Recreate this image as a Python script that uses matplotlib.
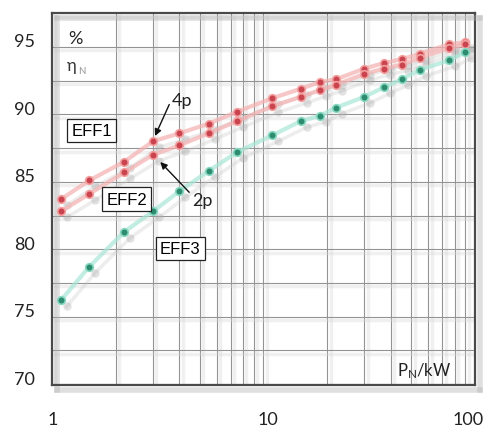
import matplotlib
matplotlib.use('Agg')
import matplotlib.pyplot as plt
import matplotlib.transforms as mtransforms
import matplotlib.patheffects as pe
from matplotlib.ticker import FixedLocator, NullFormatter

plt.rcParams['font.family'] = ['Lato', 'DejaVu Sans']
plt.rcParams['mathtext.default'] = 'regular'

# rated power in kW
power = [1.1, 1.5, 2.2, 3, 4, 5.5, 7.5, 11, 15, 18.5, 22, 30, 37, 45, 55, 75, 90]
# efficiency limits in %
eff1_4p = [83.7, 85.1, 86.5, 88.0, 88.6, 89.3, 90.2, 91.2, 91.9, 92.4, 92.6,
           93.4, 93.8, 94.1, 94.5, 95.2, 95.35]
eff1_2p = [82.8, 84.1, 85.7, 87.0, 87.7, 88.6, 89.5, 90.6, 91.3, 91.8, 92.2,
           93.0, 93.4, 93.7, 94.2, 94.9, 95.2]
eff2_lim = [76.2, 78.7, 81.3, 82.8, 84.3, 85.8, 87.2, 88.45, 89.5, 89.9, 90.5,
            91.3, 92.0, 92.6, 93.3, 94.0, 94.6]

x_ticks = [1, 10, 100]
x_labels = ['1', '10', '100']
x_minor = [2, 3, 4, 5, 6, 7, 8, 9, 20, 30, 40, 50, 60, 70, 80, 90]
y_ticks = [70, 75, 80, 85, 90, 95]
y_minor = [72.5, 77.5, 82.5, 87.5, 92.5, 97.5]

fig = plt.figure(figsize=(4.85, 4.27), dpi=100)
ax = fig.add_axes([52/485, 1 - 386/427, 423/485, 372/427])
ax.set_xscale('log')
ax.set_xlim(1, 100)
ax.set_ylim(69.93, 97.52)

ax.xaxis.set_major_locator(FixedLocator(x_ticks))
ax.xaxis.set_minor_locator(FixedLocator(x_minor))
ax.xaxis.set_minor_formatter(NullFormatter())
ax.set_xticklabels(x_labels)
ax.yaxis.set_major_locator(FixedLocator(y_ticks))
ax.yaxis.set_minor_locator(FixedLocator(y_minor))
ax.yaxis.set_minor_formatter(NullFormatter())
ax.tick_params(which='both', length=0)
ax.tick_params(axis='x', pad=18.5, labelsize=13, labelcolor='#222')
ax.tick_params(axis='y', pad=12, labelsize=13, labelcolor='#222')

# y labels sit a little above their grid lines
up = mtransforms.ScaledTranslation(0, 7/100, fig.dpi_scale_trans)
for t in ax.yaxis.get_major_ticks():
    t.label1.set_transform(t.label1.get_transform() + up)
# small horizontal nudges of the x labels, as in the original drawing
for t, dx in zip(ax.xaxis.get_major_ticks(), [1, 4, -7]):
    t.label1.set_transform(t.label1.get_transform() +
                           mtransforms.ScaledTranslation(dx/100, 0, fig.dpi_scale_trans))

ax.grid(which='both', color='#939393', lw=0.8)
grid_fx = [pe.SimpleLineShadow(offset=(2.5, -2.5), shadow_color='#d6d6d6',
                               alpha=0.35, linewidth=2.5), pe.Normal()]
for t in ax.xaxis.get_major_ticks() + ax.xaxis.get_minor_ticks() + \
        ax.yaxis.get_major_ticks() + ax.yaxis.get_minor_ticks():
    t.gridline.set_path_effects(grid_fx)

for sp in ax.spines.values():
    sp.set_color('#4a4a4a')
    sp.set_linewidth(1.6)
    sp.set_path_effects([pe.SimpleLineShadow(offset=(3.5, -3.5), shadow_color='#b0b0b0',
                                             alpha=0.4, linewidth=4), pe.Normal()])

shift = ax.transData + mtransforms.ScaledTranslation(6/100, -6/100, fig.dpi_scale_trans)

series = [
    (eff1_4p, '#f5b0b0', '#c9444e', '#f3a0a0'),
    (eff1_2p, '#f5b0b0', '#c9444e', '#f3a0a0'),
    (eff2_lim, '#a8e6d6', '#2e8c6e', '#88d8c2'),
]
for vals, lc, mfc, mec in series:
    ax.plot(power, vals, color='#c4c4c4', lw=2.5, alpha=0.3, marker='o', ms=6,
            mfc='#a0a0a0', mec='none', transform=shift, zorder=2)
for vals, lc, mfc, mec in series:
    ax.plot(power, vals, color=lc, lw=3, alpha=0.7, zorder=3)
    ax.plot(power, vals, ls='none', marker='o', ms=5.5, mfc=mfc, mec=mec,
            mew=1.2, zorder=4)

ax.text(1.285, 95.63, '%', fontsize=13, ha='center', va='center', color='#222')
ax.text(1.237, 93.66, 'η', fontsize=12, ha='center', va='center', color='#333')
ax.text(1.38, 93.29, 'N', fontsize=7, ha='center', va='center', color='#999')

box = dict(boxstyle='square,pad=0.25', fc='white', ec='#222', lw=0.9)
ax.text(1.54, 88.8, 'EFF1', fontsize=12, ha='center', va='center',
        family='Liberation Sans', bbox=box, zorder=6)
ax.text(2.256, 83.72, 'EFF2', fontsize=12, ha='center', va='center',
        family='Liberation Sans', bbox=box, zorder=6)
ax.text(4.04, 80.05, 'EFF3', fontsize=12, ha='center', va='center',
        family='Liberation Sans', bbox=box, zorder=6)

arrow = dict(arrowstyle='-|>', color='#111', lw=1, mutation_scale=10,
             shrinkA=0, shrinkB=0)
ax.annotate('4p', xy=(3.07, 88.4), xytext=(4.13, 91.07), fontsize=13,
            ha='center', va='center', color='#222', zorder=6,
            arrowprops=dict(arrow, relpos=(0, 0.6)))
ax.annotate('2p', xy=(3.25, 86.47), xytext=(5.13, 83.65), fontsize=13,
            ha='center', va='center', color='#222', zorder=6,
            arrowprops=dict(arrow, relpos=(0, 0.8)))

ax.text(57.8, 71.04, 'P$_{N}$/kW', fontsize=12, ha='center', va='center',
        color='#222', zorder=6)

fig.savefig('out.png', dpi=100)
